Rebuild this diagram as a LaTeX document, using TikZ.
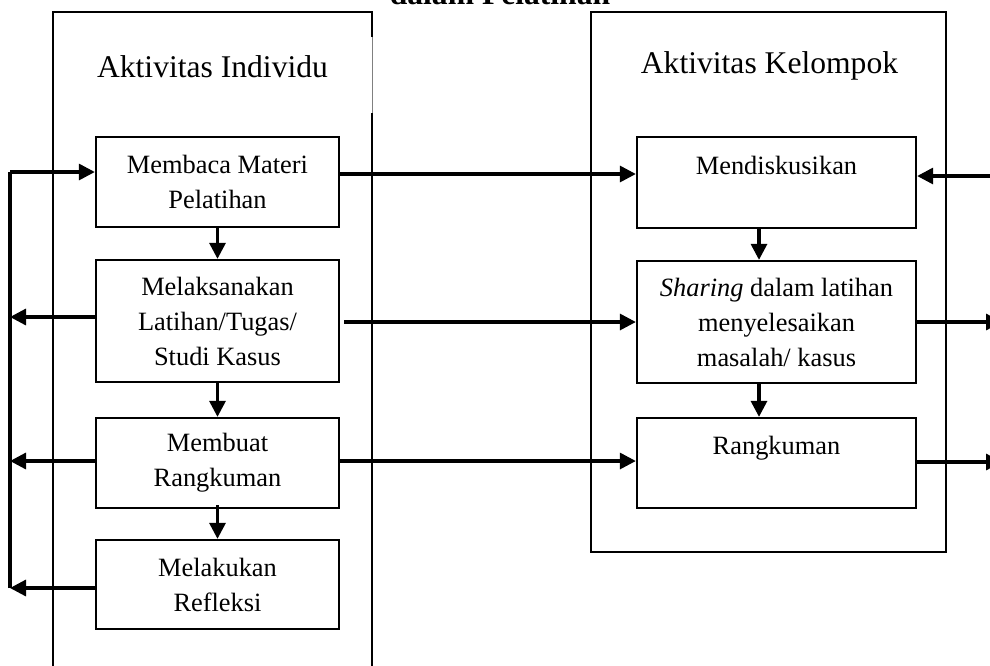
\documentclass[tikz,border=0pt]{standalone}
\usepackage{fontspec}
\setmainfont{Liberation Serif}
\usetikzlibrary{arrows.meta}
\begin{document}
\begin{tikzpicture}[x=1pt,y=-1pt,
  box/.style={draw, line width=2.3pt, inner sep=0pt, align=center,
    font=\fontsize{26.4}{35}\selectfont},
  lbox/.style={box, minimum width=243pt},
  rbox/.style={box, minimum width=279pt},
  frame/.style={line width=2.3pt},
  con/.style={line width=3.2pt},
  arr/.style={con, -{Triangle[length=16pt,width=16pt]}},
  hdr/.style={font=\fontsize{31.6}{38}\selectfont, anchor=base, inner sep=0pt}]
\clip (0,0) rectangle (990,665);
% title
\node[hdr, font=\fontsize{31.6}{38}\selectfont\bfseries] (title) at (500,4) {dalam Pelatihan};
% outer frames
\draw[frame] (372,37) -- (372,12) -- (53,12) -- (53,680);
\draw[frame] (372,113) -- (372,680);
\draw[line width=1pt, gray] (372,37) -- (372,113);
\draw[frame] (591,12) rectangle (946,552);
\node[hdr] (hI) at (212.5,77) {Aktivitas Individu};
\node[hdr] (hK) at (769.5,73) {Aktivitas Kelompok};
% left boxes
\node[lbox, minimum height=90pt] (b1) at (217.5,182) {Membaca Materi\\Pelatihan};
\node[lbox, minimum height=122pt] (b2) at (217.5,321) {Melaksanakan\\Latihan/Tugas/\\Studi Kasus};
\node[lbox, minimum height=90pt] (b3) at (217.5,463) {Membuat\\Rangkuman};
\node[lbox, minimum height=89pt] (b4) at (217.5,584.5) {Melakukan\\Refleksi};
% right boxes
\node[rbox, minimum height=91pt] (r1) at (776.5,182.5) {Mendiskusikan\\\phantom{M}};
\node[rbox, minimum height=122pt] (r2) at (776.5,322) {\textit{Sharing} dalam latihan\\menyelesaikan\\masalah/ kasus};
\node[rbox, minimum height=90pt] (r3) at (776.5,463) {Rangkuman\\\phantom{M}};
% vertical arrows
\draw[arr] (b1.south) -- (b2.north);
\draw[arr] (b2.south) -- (b3.north);
\draw[arr] ([yshift=4pt]b3.south) -- (b4.north);
\draw[arr] ([xshift=-17.5pt]r1.south) -- ([xshift=-17.5pt]r2.north);
\draw[arr] ([xshift=-17.5pt]r2.south) -- ([xshift=-17.5pt]r3.north);
% level coordinates
\coordinate (y1) at (0,174);
\coordinate (y2) at (0,322);
\coordinate (y3) at (0,461);
\coordinate (L1) at (10,172);
\coordinate (L2) at (10,317);
\coordinate (L3) at (10,461);
\coordinate (L4) at (10,588);
\coordinate (E1) at (992,176);
\coordinate (E2) at (1002,322);
\coordinate (E3) at (1002,462);
% feedback loop on the left
\draw[con] (L4) -- (L1);
\draw[arr] (L1) -- (L1 -| b1.west);
\draw[arr] (L2 -| b2.west) -- (L2);
\draw[arr] (L3 -| b3.west) -- (L3);
\draw[arr] (L4 -| b4.west) -- (L4);
% individual to group
\draw[arr] (y1 -| b1.east) -- (y1 -| r1.west);
\draw[arr] ([xshift=4pt]y2 -| b2.east) -- (y2 -| r2.west);
\draw[arr] (y3 -| b3.east) -- (y3 -| r3.west);
% right side
\draw[arr] (E1) -- (E1 -| r1.east);
\draw[arr] (E2 -| r2.east) -- (E2);
\draw[arr] (E3 -| r3.east) -- (E3);
\end{tikzpicture}
\end{document}
